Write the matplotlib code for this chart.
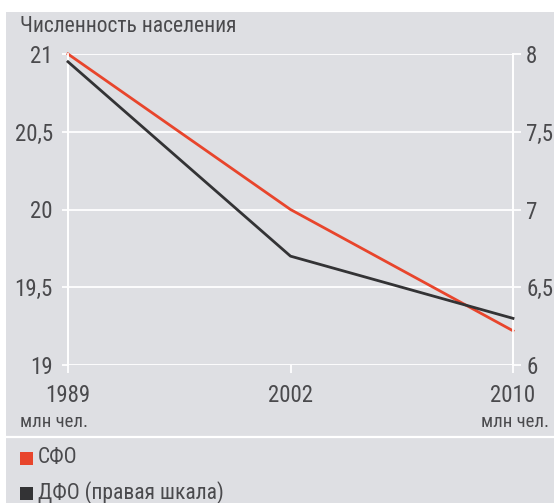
import matplotlib
matplotlib.use("Agg")
import matplotlib.pyplot as plt
from matplotlib.patches import Rectangle
from matplotlib.lines import Line2D

plt.rcParams['font.family'] = ['Roboto Condensed', 'PT Sans Narrow', 'Fira Sans Condensed',
                               'Archivo Narrow', 'DejaVu Sans Condensed', 'DejaVu Sans']

years = ["1989", "2002", "2010"]
sfo = [21.0, 20.0, 19.22]
dfo = [7.95, 6.70, 6.30]
left_ticks = [19, 19.5, 20, 20.5, 21]
left_labels = ["19", "19,5", "20", "20,5", "21"]
right_ticks = [6, 6.5, 7, 7.5, 8]
right_labels = ["6", "6,5", "7", "7,5", "8"]
title = "Численность населения"
unit = "млн чел."
legend_labels = ["СФО", "ДФО (правая шкала)"]

W, H = 554, 503
BG = "#dedfe3"
TXT = "#4a4a4d"
RED = "#e8452c"
BLK = "#333335"

fig = plt.figure(figsize=(W / 100, H / 100), dpi=100)
fig.patch.set_facecolor("white")

def fx(x):
    return x / W

def fy(y):
    return 1 - y / H

fig.patches.append(Rectangle((fx(6), 0), 1 - fx(6), fy(12), transform=fig.transFigure,
                             facecolor=BG, edgecolor="none", zorder=-10))
fig.lines.append(Line2D([fx(6), 1], [fy(437), fy(437)], transform=fig.transFigure,
                        color="white", lw=1.6, zorder=-9))

ax = fig.add_axes([fx(68), fy(365), fx(513) - fx(68), fy(54) - fy(365)])
ax.set_facecolor("none")
x = list(range(len(years)))
ax.set_xlim(0, len(years) - 1)
ax.set_ylim(19, 21)
ax2 = ax.twinx()
ax2.set_ylim(6, 8)
ax2.set_facecolor("none")

for a in (ax, ax2):
    for s in ("top", "bottom"):
        a.spines[s].set_visible(False)
    a.spines["left"].set_color("white")
    a.spines["right"].set_color("white")
    a.spines["left"].set_linewidth(1.3)
    a.spines["right"].set_linewidth(1.3)

ax.set_yticks(left_ticks)
ax.set_yticklabels(left_labels)
ax.grid(axis="y", color="white", lw=1.3)
ax.set_axisbelow(True)
ax.tick_params(axis="y", length=4, width=1.3, color="white", pad=7,
               labelsize=16.5, labelcolor=TXT)
ax.set_xticks(x)
ax.set_xticklabels(years)
ax.tick_params(axis="x", length=6, width=1.3, color="white", pad=8,
               labelsize=16.5, labelcolor=TXT)

ax2.set_yticks(right_ticks)
ax2.set_yticklabels(right_labels)
ax2.tick_params(axis="y", length=6, width=1.3, color="white", pad=3.5,
                labelsize=16.5, labelcolor=TXT)

ax.plot(x, sfo, color=RED, lw=2.0, clip_on=False, zorder=3)
ax2.plot(x, dfo, color=BLK, lw=2.0, clip_on=False, zorder=3)

fig.text(fx(20), fy(26), title, ha="left", va="center", fontsize=15.5, color=TXT)
fig.text(fx(20), fy(422), unit, ha="left", va="center", fontsize=13.5, color=TXT)
fig.text(fx(549), fy(422), unit, ha="right", va="center", fontsize=13.5, color=TXT)

for i, (lab, col) in enumerate(zip(legend_labels, [RED, BLK])):
    yc = 458 + i * 35
    fig.patches.append(Rectangle((fx(20), fy(yc + 6.5)), fx(13), fy(0) - fy(13),
                                 transform=fig.transFigure, facecolor=col,
                                 edgecolor="none", zorder=2))
    fig.text(fx(38), fy(yc), lab, ha="left", va="center", fontsize=15.5, color=TXT)

fig.savefig("out.png", dpi=100, facecolor=fig.get_facecolor())
